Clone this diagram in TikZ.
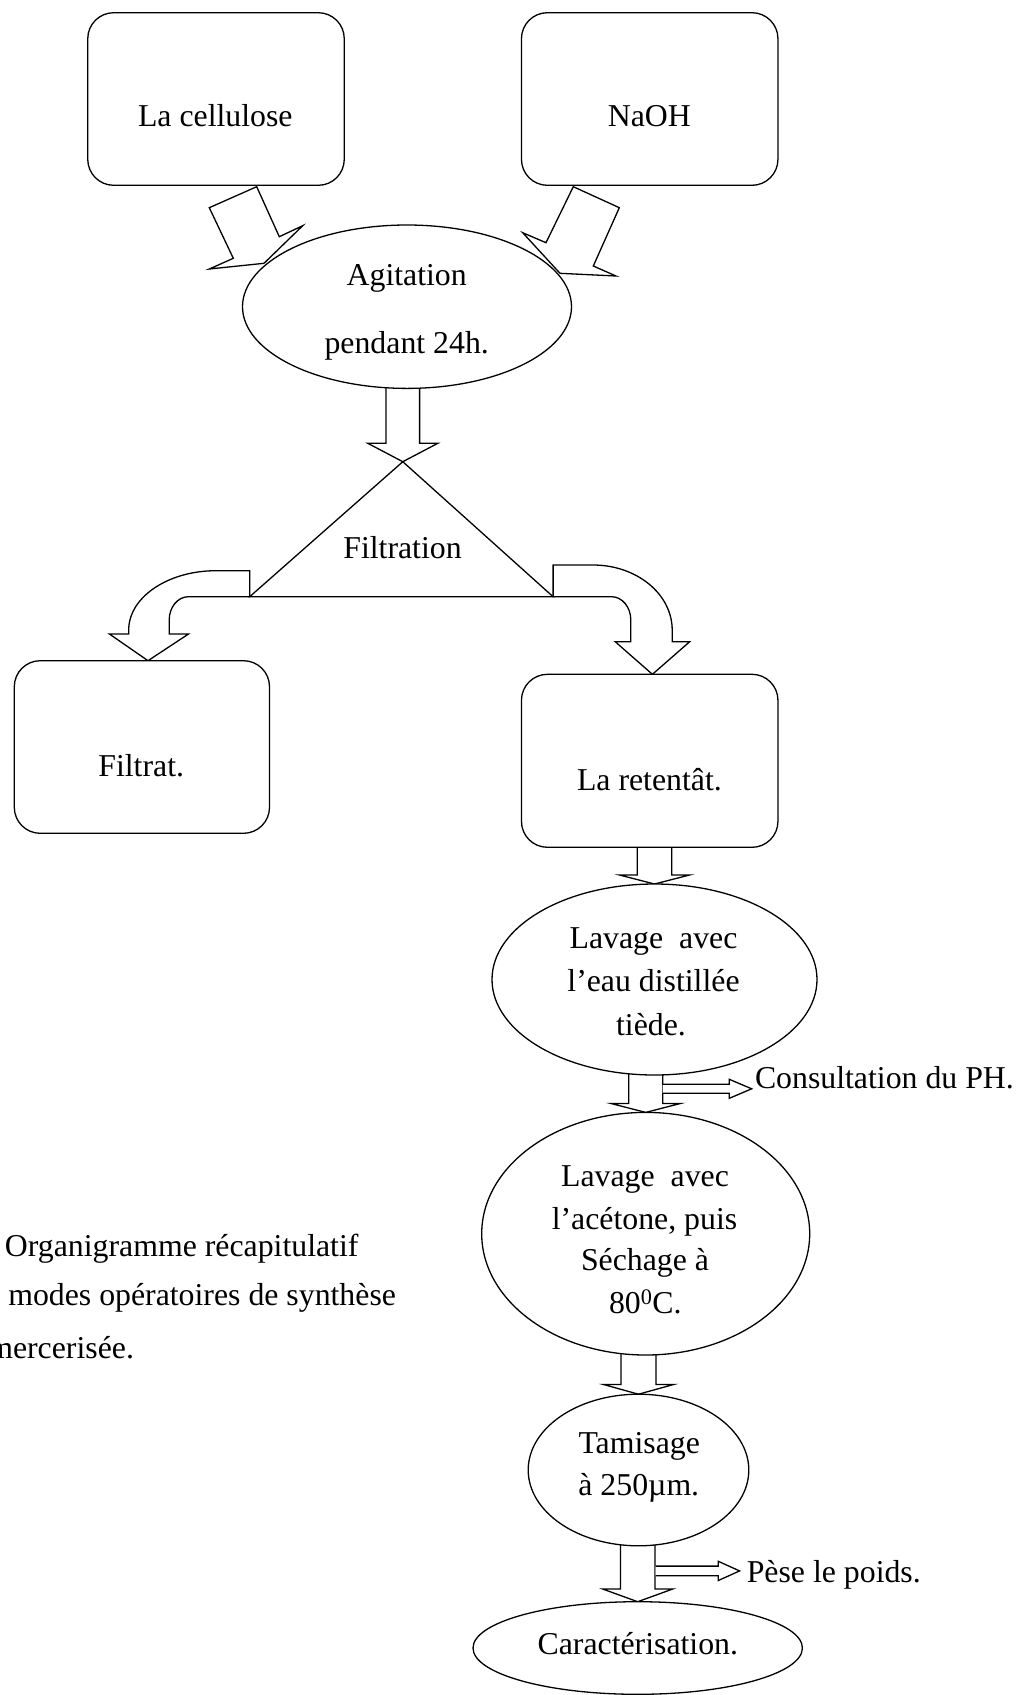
\documentclass[tikz,border=0pt]{standalone}
\usepackage{fontspec}
\setmainfont{Liberation Serif}
\usetikzlibrary{shapes.geometric,calc}
\pgfdeclarelayer{bg}
\pgfsetlayers{bg,main}
\tikzset{
  ln/.style={line width=1.3pt, line join=miter},
  rbox/.style={ln, draw, fill=white, rectangle, rounded corners=26pt, inner sep=0pt, outer sep=0pt},
  ell/.style={ln, draw, fill=white, ellipse, inner sep=0pt, outer sep=0pt},
  blk/.style={ln, draw, fill=white},
  txt/.style={inner sep=0pt, outer sep=0pt, anchor=base, font=\fontsize{31.8}{38}\selectfont},
  txtw/.style={txt, anchor=base west},
}
% block arrow pointing down: source, target, half shaft, half head, head height
\newcommand\dnarrow[5]{%
  \path (#1.south -| #2.north) coordinate (da-s);
  \draw[blk] ([xshift=-#3pt,yshift=3pt]da-s) -- ([xshift=-#3pt,yshift=#5pt]#2.north)
    -- ([xshift=-#4pt,yshift=#5pt]#2.north) -- (#2.north)
    -- ([xshift=#4pt,yshift=#5pt]#2.north) -- ([xshift=#3pt,yshift=#5pt]#2.north)
    -- ([xshift=#3pt,yshift=3pt]da-s) -- cycle;}
\begin{document}
\begin{tikzpicture}[x=1pt,y=-1pt]
\useasboundingbox (0,0) rectangle (1017,1695);
\clip (0,0) rectangle (1017,1695);

% ---------- shapes ----------
\node[rbox, minimum width=256.5pt, minimum height=172.6pt] (cell) at (216,99) {};
\node[rbox, minimum width=256.5pt, minimum height=172.6pt] (naoh) at (649.7,99) {};
\node[ell, minimum width=329pt, minimum height=163.4pt] (agit) at (407,306.7) {};
\node[inner sep=0pt, outer sep=0pt, minimum size=0pt] (ftop) at (402.8,461.7) {};
\coordinate (fleft) at (249.7,596.7);
\coordinate (fright) at (553.1,596.7);
\draw[ln] (ftop.center) -- (fleft) -- (fright) -- cycle;
\node[rbox, minimum width=255.2pt, minimum height=172.6pt] (filtrat) at (141.9,747) {};
\node[rbox, minimum width=256.5pt, minimum height=173pt] (ret) at (649.7,760.8) {};
\node[ell, minimum width=325pt, minimum height=191pt] (lav1) at (654.5,979.5) {};
\node[ell, minimum width=328pt, minimum height=242.6pt] (lav2) at (645.7,1233.7) {};
\node[ell, minimum width=220.6pt, minimum height=151.6pt] (tam) at (638.5,1470) {};
\node[ell, minimum width=329.4pt, minimum height=92.6pt] (car) at (637.7,1648) {};

% ---------- arrows (behind the shapes) ----------
\begin{pgfonlayer}{bg}
  % diagonal arrows into the agitation step
  \draw[blk] (209.3,207.7) -- (233.3,258.3) -- (209.3,269) -- (264,263.3)
     -- (302.7,225.7) -- (279.3,236.7) -- (256.7,186.7) -- cycle;
  \draw[blk] (573.3,186.7) -- (546,242.7) -- (522.7,232.7) -- (560,273.3)
     -- (616,276) -- (593.3,266) -- (619.3,207.7) -- cycle;
  % vertical block arrows
  \dnarrow{agit}{ftop}{16.8}{35}{18.4}
  \dnarrow{ret}{lav1}{17.2}{35}{9}
  \dnarrow{lav1}{lav2}{17}{35}{9}
  \dnarrow{lav2}{tam}{17.5}{35}{9.7}
  \dnarrow{tam}{car}{17.2}{35}{12.7}
  % curved arrows out of the filtration triangle
  \draw[blk] ([yshift=26pt]fleft) -- (216,570.7)
     .. controls (167.8,570.7) and (128.7,597.3) .. (128.7,630) -- (128.7,634)
     -- (109.4,634) -- (148,660.7) -- (188.5,634) -- (169.2,634) -- (169.2,620)
     .. controls (169.2,607.1) and (177.8,596.7) .. (188.5,596.7) -- (fleft) -- cycle;
  \draw[blk] ([yshift=31.7pt]fright) -- (593,565)
     .. controls (636.7,565) and (672.2,594.1) .. (672.2,630) -- (672.2,641.7)
     -- (689.7,641.7) -- (652.4,674.3) -- (615.2,641.7) -- (630.8,641.7) -- (630.8,620)
     .. controls (630.8,607.1) and (622.2,596.7) .. (611.5,596.7) -- (fright) -- cycle;
  % side arrows
  \fill[white] (662.7,1084.3) -- (729.3,1084.3) -- (729.3,1079.3) -- (751.7,1088.8)
     -- (729.3,1098.3) -- (729.3,1093.3) -- (662.7,1093.3) -- cycle;
  \draw[ln] (662.7,1084.3) -- (729.3,1084.3) -- (729.3,1079.3) -- (751.7,1088.8)
     -- (729.3,1098.3) -- (729.3,1093.3) -- (662.7,1093.3);
  \fill[white] (655.7,1566.1) -- (718.3,1566.1) -- (718.3,1561.3) -- (739.6,1570.9)
     -- (718.3,1580.5) -- (718.3,1575.7) -- (655.7,1575.7) -- cycle;
  \draw[ln] (655.7,1566.1) -- (718.3,1566.1) -- (718.3,1561.3) -- (739.6,1570.9)
     -- (718.3,1580.5) -- (718.3,1575.7) -- (655.7,1575.7);
\end{pgfonlayer}

% ---------- texts ----------
\node[txt] (tcell) at (215.3,126.7) {La cellulose};
\node[txt] (tnaoh) at (649.4,126.7) {NaOH};
\node[txt] (tag1) at (406.7,285) {Agitation};
\node[txt] (tag2) at (406.7,353) {pendant 24h.};
\node[txt] (tfil) at (402.5,558.3) {Filtration};
\node[txt] (tfiltrat) at (141.2,776.7) {Filtrat.};
\node[txt] (tret) at (649.4,790.7) {La retentât.};
\node[txt] (tl1a) at (653.5,948.3) {Lavage\ \ avec};
\node[txt] (tl1b) at (653.5,991.7) {l’eau distillée};
\node[txt] (tl1c) at (651,1035) {tiède.};
\node[txtw] (tcons) at (755,1088.3) {Consultation du PH.};
\node[txt] (tl2a) at (645,1186.7) {Lavage\ \ avec};
\node[txt] (tl2b) at (644.5,1229) {l’acétone, puis};
\node[txt] (tl2c) at (645,1270) {Séchage à};
\node[txt] (tl2d) at (645.3,1313.3) {80\textsuperscript{0}C.};
\node[txt] (tt1) at (639.2,1453.3) {Tamisage};
\node[txt] (tt2) at (638.8,1495) {à 250µm.};
\node[txtw] (tpese) at (746.8,1582.2) {Pèse le poids.};
\node[txt] (tcar) at (637.8,1654.9) {Caractérisation.};
% caption (cut by the left border)
\node[txtw] (cap1) at (5,1256.7) {Organigramme récapitulatif};
\node[txtw] (cap2) at (8.3,1305) {modes opératoires de synthèse};
\node[txtw] (cap3) at (-11.7,1358) {mercerisée.};
\end{tikzpicture}
\end{document}
